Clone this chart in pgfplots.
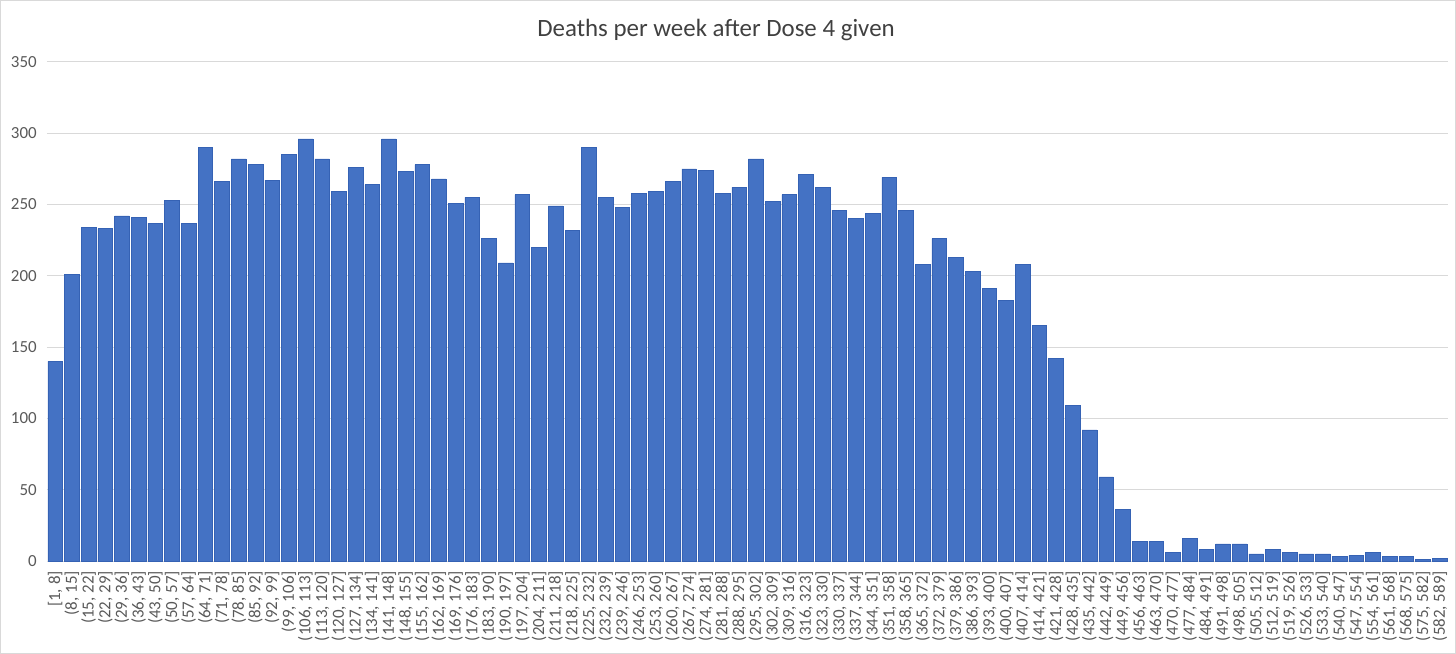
\documentclass[border=0pt]{standalone}
\usepackage{pgfplots}
\pgfplotsset{compat=1.18}
\usepackage{pgfplotstable}
\usepackage{fontspec}
\setmainfont{Carlito}
\definecolor{barfill}{HTML}{4472C4}
\definecolor{baredge}{HTML}{3562B4}
\definecolor{gridc}{HTML}{D9D9D9}
\definecolor{txt}{HTML}{595959}
\definecolor{ttl}{HTML}{404040}
\pgfplotstableread{
y
140
201
234
233
242
241
237
253
237
290
266
282
278
267
285
296
282
259
276
264
296
273
278
268
251
255
226
209
257
220
249
232
290
255
248
258
259
266
275
274
258
262
282
252
257
271
262
246
240
244
269
246
208
226
213
203
191
183
208
165
142
109
92
59
36
14
14
6
16
8
12
12
5
8
6
5
5
3
4
6
3
3
1
2
}\deaths
\begin{document}
\begin{tikzpicture}[x=1bp,y=1bp]
\path[draw=gridc, line width=0.8bp] (0.5,0.5) rectangle (1455.5,653.5);
\node[text=ttl, font=\fontsize{25}{30}\selectfont] at (716,624) {Deaths per week after Dose 4 given};
\begin{axis}[
  at={(47bp,93bp)}, anchor=south west,
  scale only axis,
  width=1401bp, height=499bp,
  ybar, bar width=0.88,
  xmin=-0.5, xmax=83.5,
  ymin=0, ymax=350,
  ytick={0,50,...,350},
  xtick={0,...,83},
  xticklabels={{[1, 8]},{(8, 15]},{(15, 22]},{(22, 29]},{(29, 36]},{(36, 43]},{(43, 50]},{(50, 57]},{(57, 64]},{(64, 71]},{(71, 78]},{(78, 85]},{(85, 92]},{(92, 99]},{(99, 106]},{(106, 113]},{(113, 120]},{(120, 127]},{(127, 134]},{(134, 141]},{(141, 148]},{(148, 155]},{(155, 162]},{(162, 169]},{(169, 176]},{(176, 183]},{(183, 190]},{(190, 197]},{(197, 204]},{(204, 211]},{(211, 218]},{(218, 225]},{(225, 232]},{(232, 239]},{(239, 246]},{(246, 253]},{(253, 260]},{(260, 267]},{(267, 274]},{(274, 281]},{(281, 288]},{(288, 295]},{(295, 302]},{(302, 309]},{(309, 316]},{(316, 323]},{(323, 330]},{(330, 337]},{(337, 344]},{(344, 351]},{(351, 358]},{(358, 365]},{(365, 372]},{(372, 379]},{(379, 386]},{(386, 393]},{(393, 400]},{(400, 407]},{(407, 414]},{(414, 421]},{(421, 428]},{(428, 435]},{(435, 442]},{(442, 449]},{(449, 456]},{(456, 463]},{(463, 470]},{(470, 477]},{(477, 484]},{(484, 491]},{(491, 498]},{(498, 505]},{(505, 512]},{(512, 519]},{(519, 526]},{(526, 533]},{(533, 540]},{(540, 547]},{(547, 554]},{(554, 561]},{(561, 568]},{(568, 575]},{(575, 582]},{(582, 589]}},
  xticklabel style={rotate=90, anchor=east, inner sep=0pt, text=txt, font=\fontsize{17}{17}\selectfont},
  xticklabel shift=10bp,
  yticklabel style={anchor=east, inner sep=0pt, text=txt, font=\fontsize{17}{17}\selectfont},
  yticklabel shift=10bp,
  /pgf/number format/assume math mode=true,
  major tick length=0pt,
  ymajorgrids, grid style={draw=gridc, line width=0.9bp},
  axis x line*=bottom, axis y line*=left,
  x axis line style={draw=gridc, line width=0.9bp},
  y axis line style={draw=none},
  clip=false,
]
\addplot[fill=barfill, draw=baredge, line width=0.5bp] table[x expr=\coordindex, y=y] {\deaths};
\end{axis}
\end{tikzpicture}
\end{document}
